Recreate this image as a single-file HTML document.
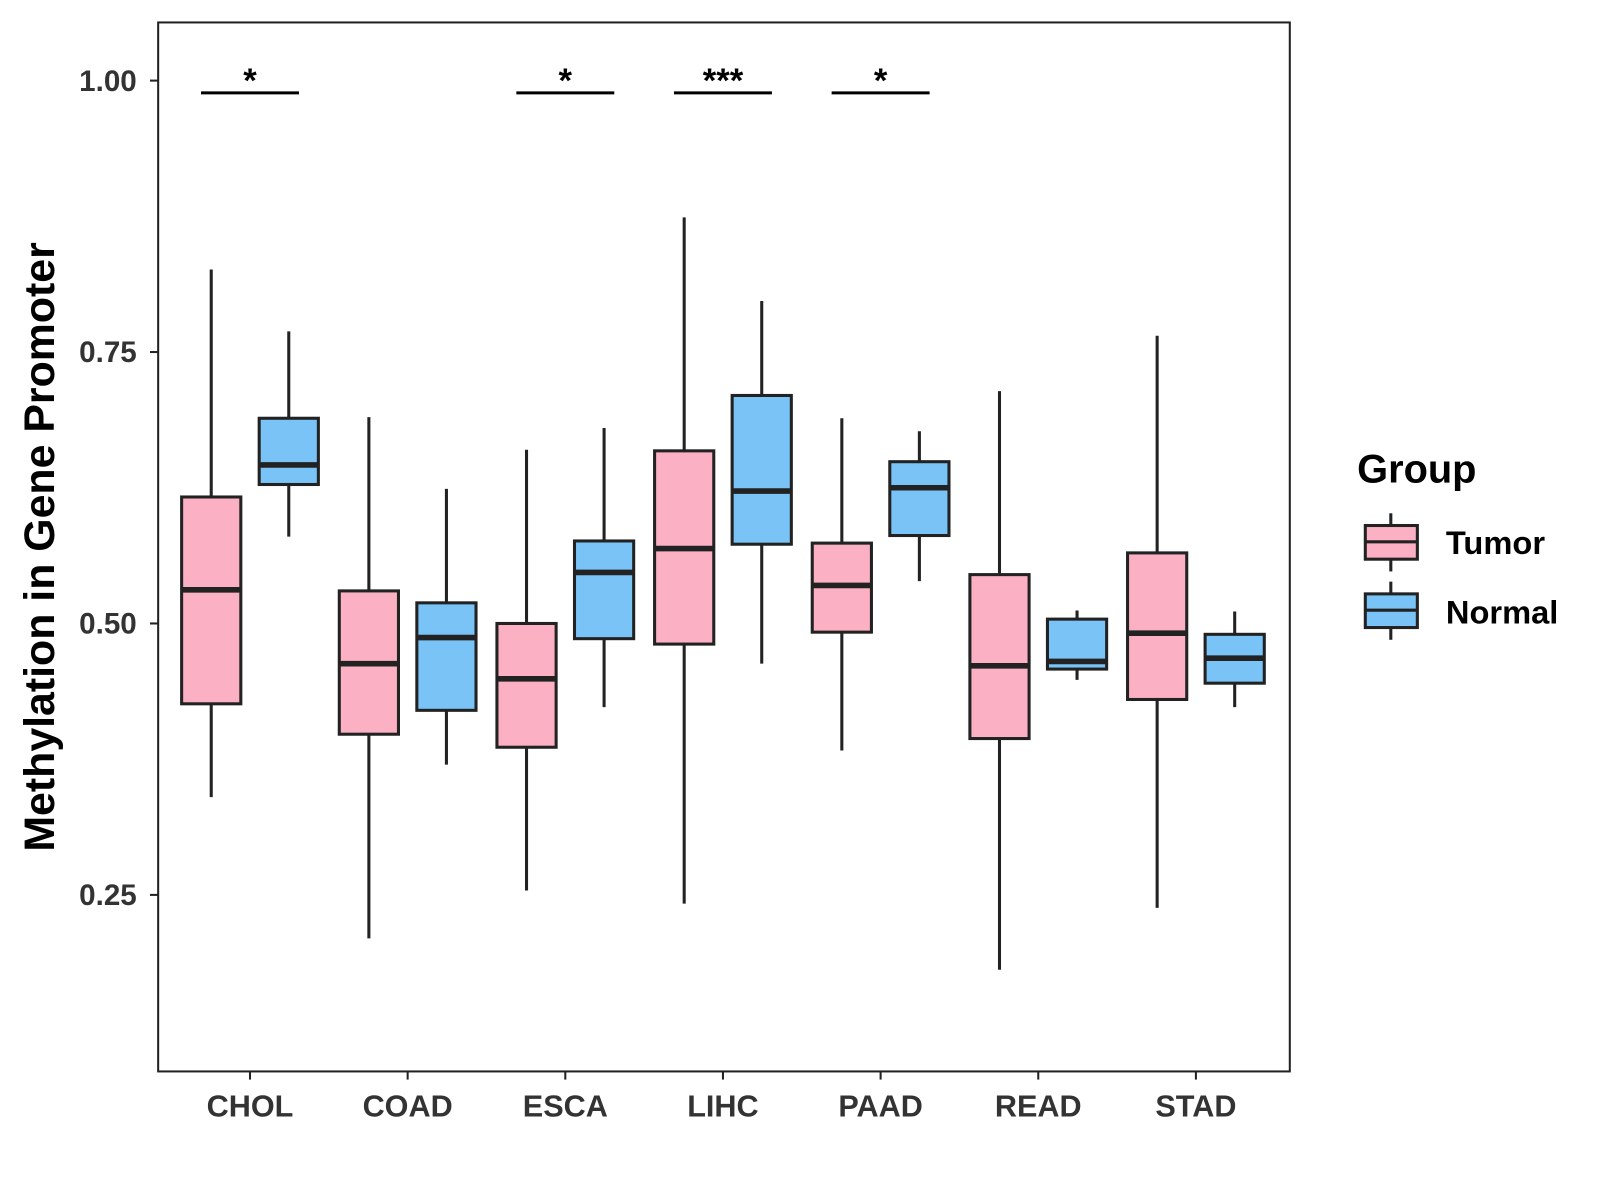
<!DOCTYPE html>
<html><head><meta charset="utf-8"><style>body{margin:0;background:#fff}svg{display:block;font-family:"Liberation Sans",Arial,sans-serif}</style></head>
<body>
<svg id="chart" width="1600" height="1200" viewBox="0 0 1568 1176">
<rect x="155" y="22" width="1109" height="1028" fill="#fff" stroke="#222" stroke-width="2"/>
<g id="axes"></g><g id="boxes"></g><g id="sig"></g>
<text transform="translate(53,536) rotate(-90)" text-anchor="middle" font-size="42" font-weight="bold" fill="#000">Methylation in Gene Promoter</text>
<g>
<text x="1330" y="473" font-size="39" font-weight="bold">Group</text>
<g>
<line x1="1363" y1="503" x2="1363" y2="560" stroke="#222" stroke-width="3"/>
<rect x="1338" y="515" width="51" height="33" fill="#FBB1C3" stroke="#222" stroke-width="3"/>
<line x1="1338" y1="531" x2="1389" y2="531" stroke="#222" stroke-width="3"/>
<text x="1417" y="543" font-size="32" font-weight="bold">Tumor</text></g>
<g>
<line x1="1363" y1="570" x2="1363" y2="627" stroke="#222" stroke-width="3"/>
<rect x="1338" y="582" width="51" height="33" fill="#79C3F7" stroke="#222" stroke-width="3"/>
<line x1="1338" y1="598" x2="1389" y2="598" stroke="#222" stroke-width="3"/>
<text x="1417" y="611" font-size="32" font-weight="bold">Normal</text></g>
</g>
</svg>
<script>
const categories=["CHOL","COAD","ESCA","LIHC","PAAD","READ","STAD"];
const tumorStats=[[0.340,0.426,0.531,0.6165,0.826],[0.210,0.398,0.463,0.530,0.690],[0.254,0.386,0.449,0.500,0.660],[0.242,0.481,0.569,0.659,0.874],[0.383,0.492,0.535,0.574,0.689],[0.181,0.394,0.461,0.545,0.714],[0.238,0.430,0.491,0.565,0.765]];
const normalStats=[[0.580,0.628,0.646,0.689,0.769],[0.370,0.420,0.487,0.519,0.624],[0.423,0.486,0.547,0.576,0.680],[0.463,0.573,0.622,0.710,0.797],[0.539,0.581,0.625,0.649,0.677],[0.448,0.458,0.465,0.504,0.512],[0.423,0.445,0.468,0.490,0.511]];
const yTicks=[0.25,0.50,0.75,1.00];
const sigLabels=["*","","*","***","*","",""];
const NS="http://www.w3.org/2000/svg";
const yS=v=>611-(v-0.5)*1064;
const xS=i=>245+i*154.5;
function mk(tag,attrs,parent,text){const e=document.createElementNS(NS,tag);for(const k in attrs)e.setAttribute(k,attrs[k]);if(text!==undefined)e.textContent=text;parent.appendChild(e);return e;}
const axes=document.getElementById('axes'),boxes=document.getElementById('boxes'),sig=document.getElementById('sig');
yTicks.forEach(t=>{const y=yS(t);
const l=mk('line',{x1:147,x2:155,y1:y,y2:y,stroke:'#222','stroke-width':2},axes);


const tx=mk('text',{x:134,y:y+10,'text-anchor':'end','font-size':29,'font-weight':'bold',fill:'#333'},axes,t.toFixed(2));

});
categories.forEach((c,i)=>{const x=xS(i);
const l=mk('line',{x1:x,x2:x,y1:1050,y2:1058,stroke:'#222','stroke-width':2},axes);


const tx=mk('text',{x:x,y:1094,'text-anchor':'middle','font-size':30,'font-weight':'bold',fill:'#333'},axes,c);


[[tumorStats[i],-38,'#FBB1C3','tumor'],[normalStats[i],38,'#79C3F7','normal']].forEach(([s,off,col,nm])=>{
const cx=x+off,w=58;
const g=mk('g',{},boxes);


mk('line',{x1:cx,x2:cx,y1:yS(s[4]),y2:yS(s[0]),stroke:'#222','stroke-width':3},g);
mk('rect',{x:cx-w/2,y:yS(s[3]),width:w,height:yS(s[1])-yS(s[3]),fill:col,stroke:'#222','stroke-width':3},g);
mk('line',{x1:cx-w/2,x2:cx+w/2,y1:yS(s[2]),y2:yS(s[2]),stroke:'#222','stroke-width':5.5},g);});
if(sigLabels[i]){const g=mk('g',{},sig);


mk('line',{x1:x-48,x2:x+48,y1:91,y2:91,stroke:'#000','stroke-width':3},g);
mk('text',{x:x,y:90,'text-anchor':'middle','font-size':34,'font-weight':'bold'},g,sigLabels[i]);}
});
</script>
</body></html>
